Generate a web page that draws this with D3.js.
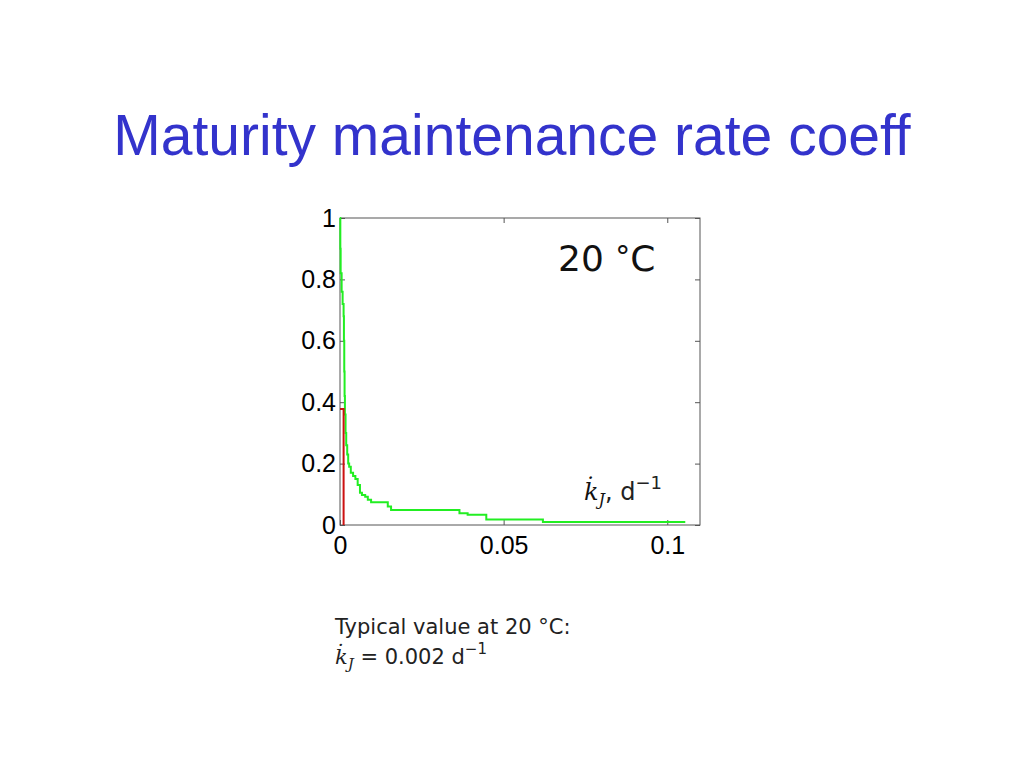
<!DOCTYPE html>
<html>
<head>
	<meta charset="utf-8">
	<title>Maturity maintenance rate coeff</title>
	<style>
		body { margin: 0; background: #fff; }
		.title { font-family: 'Liberation Sans', Arial, sans-serif; fill: #3333cc; }
		.tick text { font-family: 'Liberation Sans', Arial, sans-serif; font-size: 25px; fill: #000; }
		.note { font-family: 'DejaVu Sans', sans-serif; fill: #222; }
		.math { font-family: 'DejaVu Serif', serif; font-style: italic; }
	</style>
</head>
<body>
	<svg width="1024" height="768"></svg>
<script src="https://d3js.org/d3.v7.min.js"></script>
<script>

	// step points of the green curve (rate coeff, fraction above it)
	const kJ = [0, 0.0001, 0.0002, 0.0005, 0.0008, 0.0011, 0.0012, 0.0013, 0.0014, 0.0015,
		0.0017, 0.0019, 0.0022, 0.0025, 0.0028, 0.0033, 0.0040, 0.0047, 0.0054, 0.0061,
		0.0067, 0.0077, 0.0085, 0.0095, 0.0146, 0.0156, 0.0365, 0.0390, 0.0447, 0.0620, 0.1055];
	const frac = [1.00, 0.90, 0.82, 0.76, 0.72, 0.68, 0.60, 0.50, 0.42, 0.36,
		0.30, 0.26, 0.23, 0.20, 0.19, 0.17, 0.16, 0.15, 0.13, 0.105,
		0.098, 0.092, 0.082, 0.074, 0.060, 0.049, 0.038, 0.033, 0.018, 0.010, 0.010];

	// red marker
	const markK = 0.0011;
	const markFrac = 0.378;

	const xTicks = [0, 0.05, 0.1];
	const yTicks = [0, 0.2, 0.4, 0.6, 0.8, 1];

	const margin = {left: 340, top: 218},
		width = 360,
		height = 307;

	const svg = d3.select('svg');

	svg.append('text')
		.attr('class', 'title')
		.attr('x', 512)
		.attr('y', 155)
		.attr('text-anchor', 'middle')
		.style('font-size', '57px')
		.text('Maturity maintenance rate coeff');

	const g = svg.append('g')
		.attr('transform', `translate(${margin.left}, ${margin.top})`);

	const x = d3.scaleLinear().domain([0, 0.11]).range([0, width]);
	const y = d3.scaleLinear().domain([0, 1]).range([height, 0]);

	const fmt = d => String(d);

	// axes with inward ticks, mirrored on top/right
	g.append('g')
		.attr('transform', `translate(0, ${height})`)
		.call(d3.axisBottom(x).tickValues(xTicks).tickSizeInner(-5).tickSizeOuter(0).tickPadding(11).tickFormat(fmt));
	g.append('g')
		.call(d3.axisLeft(y).tickValues(yTicks).tickSizeInner(-5).tickSizeOuter(0).tickPadding(4).tickFormat(fmt));
	g.append('g')
		.call(d3.axisTop(x).tickValues(xTicks).tickSizeInner(-5).tickSizeOuter(0).tickFormat(''));
	g.append('g')
		.attr('transform', `translate(${width}, 0)`)
		.call(d3.axisRight(y).tickValues(yTicks).tickSizeInner(-5).tickSizeOuter(0).tickFormat(''));

	g.selectAll('.domain').remove();
	g.selectAll('.tick line').attr('stroke', '#555');

	g.append('rect')
		.attr('width', width)
		.attr('height', height)
		.attr('fill', 'none')
		.attr('stroke', '#555')
		.attr('stroke-width', 1);

	const line = d3.line()
		.x(d => x(d[0]))
		.y(d => y(d[1]))
		.curve(d3.curveStepAfter);

	g.append('path')
		.datum(d3.zip(kJ, frac))
		.attr('d', line)
		.attr('fill', 'none')
		.attr('stroke', '#22ee22')
		.attr('stroke-width', 2);

	g.append('path')
		.datum([[0, markFrac], [markK, markFrac], [markK, 0]])
		.attr('d', d3.line().x(d => x(d[0])).y(d => y(d[1])))
		.attr('fill', 'none')
		.attr('stroke', '#cc1111')
		.attr('stroke-width', 2);

	// in-plot labels
	const deg = g.append('text')
		.attr('class', 'note')
		.attr('x', 218)
		.attr('y', 53)
		.style('font-size', '36px')
		.style('fill', '#111');
	deg.append('tspan').text('20 ');
	deg.append('tspan').attr('dy', -4).style('font-size', '30px').text('\u00b0');
	deg.append('tspan').attr('dy', 4).text('C');

	const kLab = g.append('text')
		.attr('x', 244)
		.attr('y', 282)
		.style('font-size', '24px')
		.style('fill', '#111');
	kLab.append('tspan').attr('class', 'math').text('k\u0307');
	kLab.append('tspan').attr('class', 'math').attr('dy', 5).style('font-size', '16px').text('J');
	kLab.append('tspan').attr('class', 'note').attr('dy', -5).text(',  d');
	kLab.append('tspan').attr('class', 'note').attr('dy', -11).style('font-size', '18px').text('\u22121');

	// note under the chart
	svg.append('text')
		.attr('class', 'note')
		.attr('x', 335)
		.attr('y', 634)
		.style('font-size', '21px')
		.text('Typical value at 20 °C:');

	const val = svg.append('text')
		.attr('class', 'note')
		.attr('x', 335)
		.attr('y', 664)
		.style('font-size', '21px');
	val.append('tspan').attr('class', 'math').text('k\u0307');
	val.append('tspan').attr('class', 'math').attr('dy', 5).style('font-size', '15px').text('J');
	val.append('tspan').attr('dy', -5).text(' = 0.002 d');
	val.append('tspan').attr('dy', -10).style('font-size', '15px').text('\u22121');

</script>
</body>
</html>
